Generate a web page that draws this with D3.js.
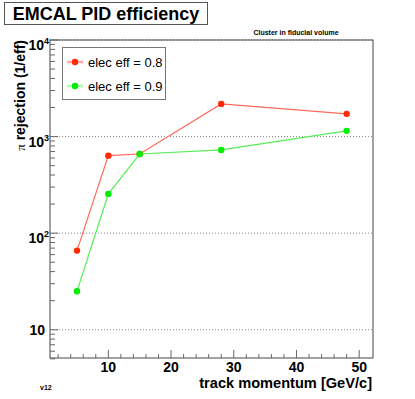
<!DOCTYPE html>
<html>
<head>
<meta charset="utf-8">
<script src="https://cdn.jsdelivr.net/npm/d3@7"></script>
<style>
  body { margin: 0; background: #fff; }
  svg { display: block; font-family: "Liberation Sans", Arial, sans-serif; }
</style>
</head>
<body>
<div id="chart"></div>
<script>
// dades llegides del gràfic
const momentum = [5, 10, 15, 28, 48];
const rejEff08 = [66, 635, 660, 2180, 1720];
const rejEff09 = [25, 255, 660, 728, 1146];
const seriesNames = ["elec eff = 0.8", "elec eff = 0.9"];
const xTicks = [10, 20, 30, 40, 50];
const yTicks = [10, 100, 1000, 10000];

const width = 415, height = 399;
const svg = d3.select("#chart").append("svg")
    .attr("width", width)
    .attr("height", height);

// escales
const x = d3.scaleLinear().domain([0.7, 52.2]).range([50, 373]);
const y = d3.scaleLog().domain([5.1, 10000]).range([358, 40]);

// graella puntejada als majors
svg.append("g").selectAll("line")
    .data(yTicks)
    .enter().append("line")
    .attr("x1", x.range()[0]).attr("x2", x.range()[1])
    .attr("y1", d => y(d)).attr("y2", d => y(d))
    .attr("stroke", "#888").attr("stroke-dasharray", "1,2");

// marc
svg.append("rect")
    .attr("x", 50).attr("y", 40)
    .attr("width", 323).attr("height", 318)
    .attr("fill", "none").attr("stroke", "#444");

// ticks Y (cap a dins): 1..9 x 10^n
const yMinor = [5, 6, 7, 8, 9].concat(
    d3.range(1, 4).flatMap(e => d3.range(1, 10).map(m => m * Math.pow(10, e))), [10000]);
svg.append("g").selectAll("line")
    .data(yMinor)
    .enter().append("line")
    .attr("x1", 50)
    .attr("x2", d => yTicks.includes(d) ? 58 : 55)
    .attr("y1", d => y(d)).attr("y2", d => y(d))
    .attr("stroke", "#666");

// etiquetes Y
yTicks.forEach(v => {
    const e = Math.round(Math.log10(v));
    const t = svg.append("text")
        .attr("text-anchor", "end")
        .style("font-weight", "bold")
        .style("font-size", "14px");
    if (e === 1) {
        t.attr("x", 45).attr("y", y(v) + 5).text("10");
    } else {
        t.attr("x", 49).attr("y", y(v) + 10);
        t.append("tspan").text("10");
        t.append("tspan").attr("dy", -6).style("font-size", "9px").text(e);
    }
});

// ticks X (cap a dins)
const xMinor = d3.range(2, 52, 2);
svg.append("g").selectAll("line")
    .data(xMinor)
    .enter().append("line")
    .attr("x1", d => x(d)).attr("x2", d => x(d))
    .attr("y1", 358)
    .attr("y2", d => d % 10 === 0 ? 350 : 354)
    .attr("stroke", "#666");

svg.append("g").selectAll("text")
    .data(xTicks)
    .enter().append("text")
    .attr("x", d => x(d)).attr("y", 372)
    .attr("text-anchor", "middle")
    .style("font-weight", "bold").style("font-size", "14px")
    .text(d => d);

// títols d'eixos
svg.append("text")
    .attr("x", 372).attr("y", 388)
    .attr("text-anchor", "end")
    .style("font-weight", "bold").style("font-size", "14.6px")
    .text("track momentum [GeV/c]");

const yt = svg.append("text")
    .attr("transform", "translate(25,40) rotate(-90)")
    .attr("text-anchor", "end")
    .style("font-weight", "bold").style("font-size", "14px");
yt.append("tspan").style("font-family", "'Liberation Serif', serif")
    .style("font-weight", "normal").style("font-size", "13px").text("π");
yt.append("tspan").text(" rejection (1/eff)");

// títol
svg.append("rect")
    .attr("x", 4.5).attr("y", 2.5).attr("width", 203).attr("height", 22)
    .attr("fill", "#fff").attr("stroke", "#555");
svg.append("text")
    .attr("x", 106).attr("y", 20)
    .attr("text-anchor", "middle")
    .style("font-weight", "bold").style("font-size", "18px")
    .text("EMCAL PID efficiency");

svg.append("text")
    .attr("x", 296).attr("y", 35)
    .attr("text-anchor", "middle")
    .style("font-weight", "bold").style("font-size", "7px")
    .text("Cluster in fiducial volume");

svg.append("text")
    .attr("x", 40).attr("y", 390)
    .style("font-weight", "bold").style("font-size", "7px")
    .text("v12");

// sèries
const series = [
    { name: seriesNames[0], values: rejEff08, line: "#ff6a5a", marker: "#ff2a00", leg: "#ffaaa2" },
    { name: seriesNames[1], values: rejEff09, line: "#55ee55", marker: "#00ee00", leg: "#aaffaa" }
];

const line = d3.line().x(d => x(d[0])).y(d => y(d[1]));

series.forEach(s => {
    const pts = momentum.map((m, i) => [m, s.values[i]]);
    svg.append("path")
        .datum(pts)
        .attr("d", line)
        .attr("fill", "none")
        .attr("stroke", s.line)
        .attr("stroke-width", 1.2);
    svg.append("g").selectAll("circle")
        .data(pts)
        .enter().append("circle")
        .attr("cx", d => x(d[0])).attr("cy", d => y(d[1]))
        .attr("r", 3.2)
        .attr("fill", s.marker);
});

// llegenda
const legend = svg.append("g");
legend.append("rect")
    .attr("x", 62.5).attr("y", 47.5).attr("width", 103).attr("height", 52)
    .attr("fill", "#fff").attr("stroke", "#777");
series.forEach((s, i) => {
    const ly = 62 + i * 24;
    legend.append("line")
        .attr("x1", 67).attr("x2", 83).attr("y1", ly).attr("y2", ly)
        .attr("stroke", s.leg).attr("stroke-width", 2.5);
    legend.append("circle")
        .attr("cx", 75).attr("cy", ly).attr("r", 3.2).attr("fill", s.marker);
    legend.append("text")
        .attr("x", 88).attr("y", ly + 5)
        .style("font-size", "13px")
        .text(s.name);
});
</script>
</body>
</html>
